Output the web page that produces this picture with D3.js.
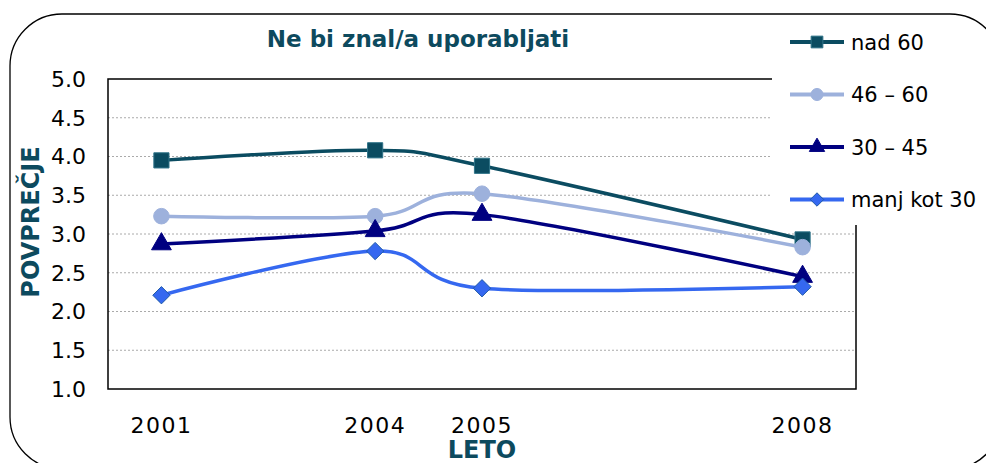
<!DOCTYPE html>
<html>
<head>
<meta charset="utf-8">
<script src="https://cdn.jsdelivr.net/npm/d3@7"></script>
<style>
  body { margin: 0; background: #fff; }
  svg text { font-family: "DejaVu Sans", Verdana, sans-serif; }
</style>
</head>
<body>
<div id="content"></div>
<script>
// category slots on the x axis (blank slots keep Excel's spacing)
const categories = ['2001', '', '2004', '2005', '', '', '2008'];
const seriesNames = ['nad 60', '46 – 60', '30 – 45', 'manj kot 30'];
const nad60 = [3.95, null, 4.08, 3.88, null, null, 2.93];
const s46to60 = [3.23, null, 3.23, 3.52, null, null, 2.83];
const s30to45 = [2.87, null, 3.04, 3.25, null, null, 2.45];
const manj30 = [2.21, null, 2.78, 2.30, null, null, 2.32];
const yTicks = [1.0, 1.5, 2.0, 2.5, 3.0, 3.5, 4.0, 4.5, 5.0];

const width = 986, height = 463;
const plot = { left: 108, right: 856, top: 79, bottom: 389 };

// excel style diamond: a square turned 45 degrees
const symbolDiamondSq = {
  draw(ctx, size) {
    const r = Math.sqrt(size / 2);
    ctx.moveTo(0, -r);
    ctx.lineTo(r, 0);
    ctx.lineTo(0, r);
    ctx.lineTo(-r, 0);
    ctx.closePath();
  }
};

const styles = [
  { color: '#0b4c61', stroke: '#2f7388', symbol: d3.symbolSquare, size: 230 },
  { color: '#9db1dc', stroke: '#9db1dc', symbol: d3.symbolCircle, size: 190 },
  { color: '#000080', stroke: '#000080', symbol: d3.symbolTriangle, size: 170 },
  { color: '#3568f0', stroke: '#1f5aa8', symbol: symbolDiamondSq, size: 150 },
];
const allSeries = [nad60, s46to60, s30to45, manj30];

const svg = d3.select('#content').append('svg')
  .attr('width', width).attr('height', height);

const x = d3.scaleBand()
  .domain(d3.range(categories.length))
  .range([plot.left, plot.right]);
const cx = i => x(i) + x.bandwidth() / 2;
const y = d3.scaleLinear().domain([1, 5]).range([plot.bottom, plot.top]);

// gridlines
svg.append('g').selectAll('line')
  .data(yTicks.filter(t => t > 1 && t < 5))
  .join('line')
  .attr('x1', plot.left).attr('x2', plot.right)
  .attr('y1', d => y(d)).attr('y2', d => y(d))
  .attr('stroke', '#aaa').attr('stroke-width', 1)
  .attr('stroke-dasharray', '2,2');

// plot frame
svg.append('rect')
  .attr('x', plot.left).attr('y', plot.top)
  .attr('width', plot.right - plot.left).attr('height', plot.bottom - plot.top)
  .attr('fill', 'none').attr('stroke', '#000').attr('stroke-width', 1.5);

// y tick labels
svg.append('g').selectAll('text')
  .data(yTicks)
  .join('text')
  .attr('x', plot.left - 22).attr('y', d => y(d))
  .attr('dy', '0.36em')
  .attr('text-anchor', 'end')
  .attr('font-size', 22)
  .text(d => d.toFixed(1));

// x tick labels
svg.append('g').selectAll('text')
  .data(categories.map((c, i) => ({ c, i })).filter(d => d.c))
  .join('text')
  .attr('x', d => cx(d.i)).attr('y', 433)
  .attr('text-anchor', 'middle')
  .attr('font-size', 22)
  .attr('letter-spacing', 1.5)
  .text(d => d.c);

// lines
const line = d3.line()
  .x(d => cx(d.i)).y(d => y(d.v))
  .curve(d3.curveCardinal.tension(0));

allSeries.forEach((vals, k) => {
  const pts = vals.map((v, i) => ({ v, i })).filter(d => d.v !== null);
  const st = styles[k];
  svg.append('path')
    .datum(pts)
    .attr('d', line)
    .attr('fill', 'none')
    .attr('stroke', st.color)
    .attr('stroke-width', 3.5)
    .attr('stroke-linejoin', 'round');
  svg.append('g').selectAll('path')
    .data(pts)
    .join('path')
    .attr('transform', d => `translate(${cx(d.i)},${y(d.v)})`)
    .attr('d', d3.symbol(st.symbol, st.size))
    .attr('fill', st.color)
    .attr('stroke', st.stroke)
    .attr('stroke-width', 1);
});

// legend
svg.append('rect')
  .attr('x', 772).attr('y', 16).attr('width', 214).attr('height', 209)
  .attr('fill', '#fff');
const legend = svg.append('g').selectAll('g')
  .data(seriesNames)
  .join('g')
  .attr('transform', (d, i) => `translate(790,${42 + i * 52.5})`);
legend.append('line')
  .attr('x1', 0).attr('x2', 54)
  .attr('stroke', (d, i) => styles[i].color)
  .attr('stroke-width', 4);
legend.append('path')
  .attr('transform', 'translate(27,0)')
  .attr('d', (d, i) => d3.symbol(styles[i].symbol, styles[i].size * 0.6)())
  .attr('fill', (d, i) => styles[i].color)
  .attr('stroke', (d, i) => styles[i].stroke);
legend.append('text')
  .attr('x', 61).attr('dy', '0.36em')
  .attr('font-size', 21)
  .text(d => d);

// titles
svg.append('text')
  .attr('x', 418).attr('y', 47)
  .attr('text-anchor', 'middle')
  .attr('font-size', 23).attr('font-weight', 'bold')
  .attr('fill', '#0d4a5e')
  .text('Ne bi znal/a uporabljati');
svg.append('text')
  .attr('transform', 'translate(39,222) rotate(-90)')
  .attr('text-anchor', 'middle')
  .attr('font-size', 24).attr('font-weight', 'bold')
  .attr('fill', '#0d4a5e')
  .text('POVPREČJE');
svg.append('text')
  .attr('x', 482).attr('y', 458)
  .attr('text-anchor', 'middle')
  .attr('font-size', 24).attr('font-weight', 'bold')
  .attr('fill', '#0d4a5e')
  .text('LETO');

// outer rounded border
svg.append('rect')
  .attr('x', 10).attr('y', 14).attr('width', 992).attr('height', 455)
  .attr('rx', 52).attr('ry', 52)
  .attr('fill', 'none').attr('stroke', '#000').attr('stroke-width', 1.3);
</script>
</body>
</html>
